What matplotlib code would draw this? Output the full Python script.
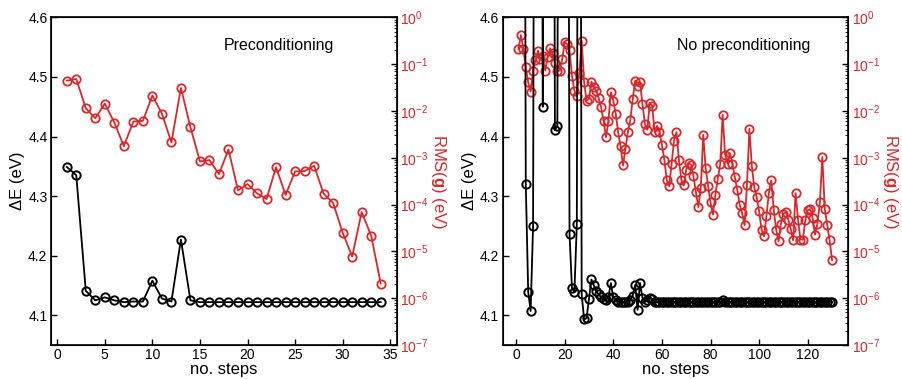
import numpy as np
import matplotlib
matplotlib.use("Agg")
import matplotlib.pyplot as plt

plt.rcParams['font.family'] = ['Liberation Sans', 'DejaVu Sans']
plt.rcParams['mathtext.fontset'] = 'custom'
plt.rcParams['mathtext.rm'] = 'Liberation Sans'
plt.rcParams['mathtext.bf'] = 'Liberation Sans:bold'

RED = '#d8282c'

# --- left panel: preconditioning ---
steps_pre = np.arange(1, 35)
dE_pre = [4.349, 4.335, 4.141, 4.125, 4.130, 4.125, 4.122, 4.123, 4.123, 4.158,
          4.128, 4.123, 4.227, 4.125] + [4.122] * 20
logrms_pre = [-1.350, -1.315, -1.940, -2.153, -1.841, -2.246, -2.750, -2.225, -2.210, -1.670,
              -2.054, -2.672, -1.507, -2.345, -3.077, -3.049, -3.348, -2.822, -3.696, -3.561,
              -3.760, -3.881, -3.198, -3.795, -3.291, -3.284, -3.170, -3.767, -3.966, -4.598,
              -5.110, -4.158, -4.662, -5.686]

# --- right panel: no preconditioning ---
steps_nopre = np.arange(1, 131)
dE_nopre = [5.6, 5.8, 5.9, 4.320, 4.139, 4.107, 4.249, 5.9, 6.0, 5.8,
            4.450, 5.7, 5.9, 6.0, 5.8, 4.411, 4.418, 5.9, 6.0, 5.9,
            5.8, 4.236, 4.145, 4.139, 4.253, 5.9, 4.135, 4.093, 4.095, 4.128,
            4.160, 4.150, 4.140, 4.135, 4.130, 4.127, 4.126, 4.130, 4.154, 4.130,
            4.126, 4.123, 4.122, 4.122, 4.122, 4.122, 4.125, 4.133, 4.151, 4.109,
            4.154, 4.129, 4.123, 4.126, 4.129, 4.127, 4.123] + [4.122] * 27 + [4.125] + [4.122] * 45
logrms_nopre = [-0.675, -0.377, -0.675, -1.066, -1.386, -1.585, -1.137, -0.910, -0.711, -0.896,
                -0.824, -1.137, -0.853, -0.661, -0.753, -0.967, -1.137, -1.137, -0.896, -0.533,
                -0.569, -0.697, -1.244, -1.564, -1.670, -1.194, -0.498, -1.386, -1.777, -1.741,
                -1.372, -1.493, -1.564, -1.727, -1.919, -2.203, -2.559, -2.203, -1.599, -1.777,
                -2.061, -2.452, -2.758, -3.163, -2.807, -2.452, -2.189, -1.741, -1.350, -1.457,
                -1.386, -1.848, -2.274, -2.402, -1.834, -1.883, -2.452, -2.317, -2.438, -2.722,
                -3.042, -3.468, -3.611, -3.127, -2.630, -2.452, -3.042, -3.468, -3.589, -3.255,
                -3.113, -3.149, -3.397, -3.738, -4.051, -3.646, -2.509, -3.220, -3.596, -3.945,
                -4.215, -3.788, -3.447, -3.127, -2.082, -2.935, -3.127, -2.900, -3.127, -3.412,
                -3.682, -4.001, -4.179, -4.442, -3.575, -2.381, -3.184, -3.625, -3.845, -4.144,
                -4.534, -4.677, -4.250, -3.753, -3.483, -4.108, -4.534, -4.783, -4.407, -4.193,
                -4.158, -4.321, -4.513, -4.762, -3.753, -4.321, -4.748, -4.748, -4.335, -4.122,
                -4.094, -4.286, -4.641, -4.407, -3.945, -2.985, -4.087, -4.428, -4.762, -5.188]

fig = plt.figure(figsize=(9.02, 3.79), dpi=100)


def panel(rect, steps, dE, logrms, xlim, xticks, label, label_x):
    ax = fig.add_axes(rect)
    ax2 = ax.twinx()
    ax.set_zorder(ax2.get_zorder() + 1)
    ax.patch.set_visible(False)

    ax.plot(steps, dE, '-', color='k', lw=1.3, marker='o', ms=6,
            mfc='none', mec='k', mew=1.4)
    ax2.plot(steps, 10.0 ** np.array(logrms), '-', color=RED, lw=1.3, marker='o', ms=6,
             mfc='none', mec=RED, mew=1.3)

    ax.set_xlim(*xlim)
    ax.set_ylim(4.05, 4.6)
    ax.set_xticks(xticks)
    ax.set_yticks([4.1, 4.2, 4.3, 4.4, 4.5, 4.6])
    ax.set_yticklabels(['4.1', '4.2', '4.3', '4.4', '4.5', '4.6'])
    ax.tick_params(direction='in', labelsize=10, length=4, width=1, top=False, pad=2.5)
    ax.set_xlabel('no. steps', fontsize=12, labelpad=0)
    ax.set_ylabel('ΔE (eV)', fontsize=12, labelpad=2)

    ax2.set_yscale('log')
    ax2.set_ylim(1e-7, 1)
    ax2.set_yticks([10.0 ** k for k in range(-7, 1)])
    ax2.tick_params(axis='y', which='major', direction='in', labelsize=10,
                    length=4, width=1, colors='k', labelcolor=RED, pad=2.5)
    ax2.tick_params(axis='y', which='minor', direction='in', length=2, width=0.6)
    ax2.set_ylabel(r'RMS($\mathbf{g}$) (eV)', color=RED, fontsize=12,
                   rotation=270, labelpad=14)

    for sp in ax2.spines.values():
        sp.set_linewidth(1.2)

    ax.text(label_x, 0.915, label, transform=ax.transAxes, fontsize=11.5,
            ha='center', va='center')
    return ax, ax2


panel([0.0565, 0.0897, 0.3835, 0.8643], steps_pre, dE_pre, logrms_pre,
      (-0.66, 35.7), [0, 5, 10, 15, 20, 25, 30, 35], 'Preconditioning', 0.66)
panel([0.5573, 0.0897, 0.3832, 0.8643], steps_nopre, dE_nopre, logrms_nopre,
      (-5.5, 136.7), [0, 20, 40, 60, 80, 100, 120], 'No preconditioning', 0.697)

fig.savefig('out.png', dpi=100)
